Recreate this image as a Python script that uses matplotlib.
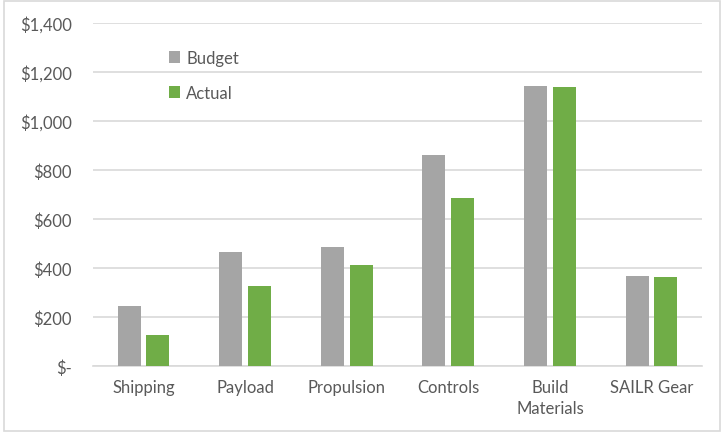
import numpy as np
import matplotlib.pyplot as plt
from matplotlib.patches import Rectangle
from matplotlib.ticker import FuncFormatter

categories = ["Shipping", "Payload", "Propulsion", "Controls", "Build\nMaterials", "SAILR Gear"]
budget = [246, 464, 487, 861, 1144, 368]
actual = [125, 325, 412, 687, 1140, 365]

GRAY = "#A5A5A5"
GREEN = "#70AD47"
TEXT = "#595959"
GRID = "#D9D9D9"

plt.rcParams["font.family"] = ["Lato", "DejaVu Sans"]

fig = plt.figure(figsize=(7.24, 4.35), dpi=100)
ax = fig.add_axes([0.128, 0.156, 0.842, 0.789])

x = np.arange(len(categories))
w = 0.227
ax.bar(x - 0.142, budget, w, color=GRAY, label="Budget", zorder=3)
ax.bar(x + 0.142, actual, w, color=GREEN, label="Actual", zorder=3)

ax.set_xlim(-0.5, len(categories) - 0.5)
ax.set_ylim(0, 1400)
ax.set_yticks(np.arange(0, 1401, 200))


def money(v, pos):
    return "$-" if v == 0 else f"${v:,.0f}"


ax.yaxis.set_major_formatter(FuncFormatter(money))
ax.set_xticks(x)
ax.set_xticklabels(categories, linespacing=1.45)
ax.tick_params(axis="both", length=0, labelsize=12, labelcolor=TEXT)
ax.tick_params(axis="y", pad=15)
ax.tick_params(axis="x", pad=9)

ax.grid(axis="y", color=GRID, linewidth=1.2, zorder=0)
for side in ["top", "right", "left"]:
    ax.spines[side].set_visible(False)
ax.spines["bottom"].set_color(GRID)
ax.spines["bottom"].set_linewidth(1.2)

leg = ax.legend(loc="upper left", bbox_to_anchor=(0.1, 0.965), frameon=False,
                fontsize=12, handlelength=0.7, handleheight=0.7,
                handletextpad=0.35, labelspacing=1.15)
for t in leg.get_texts():
    t.set_color(TEXT)

# light chart-area border
fig.patches.append(Rectangle((0.005, 0.006), 0.99, 0.99, transform=fig.transFigure,
                             fill=False, edgecolor=GRID, linewidth=1.2))

fig.savefig("out.png", dpi=100)
